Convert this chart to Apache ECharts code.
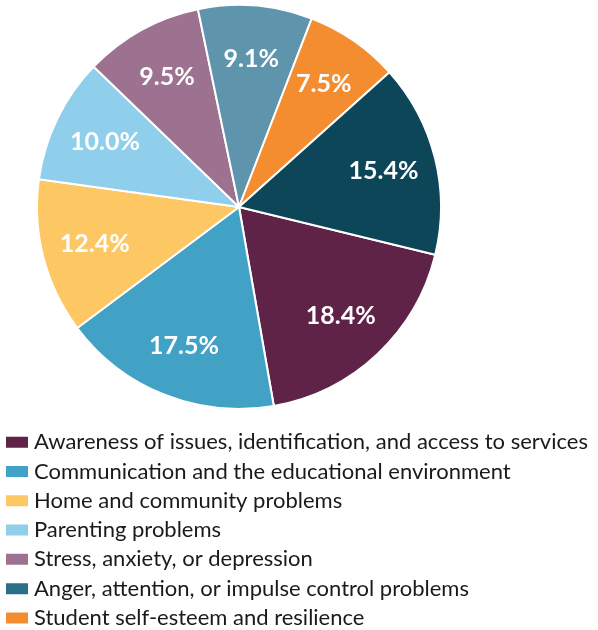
<!DOCTYPE html>
<html>
<head>
<meta charset="utf-8">
<script src="https://cdn.jsdelivr.net/npm/echarts@6/dist/echarts.min.js"></script>
<style>
  html, body { margin: 0; padding: 0; background: #ffffff; }
  #chart { width: 598px; height: 630px; }
</style>
</head>
<body>
<div id="chart"></div>
<script>
// Share of concerns, clockwise from the right-hand side
const categories = [
  'Awareness of issues, identification, and access to services',
  'Communication and the educational environment',
  'Home and community problems',
  'Parenting problems',
  'Stress, anxiety, or depression',
  'Other',
  'Student self-esteem and resilience',
  'Anger, attention, or impulse control problems'
];
const values = [18.4, 17.5, 12.4, 10.0, 9.5, 9.1, 7.5, 15.4];
const sliceColors = ['#5e2347', '#42a2c6', '#fdc863', '#8fcfec', '#9d7190', '#5e94ac', '#f48c30', '#0c4658'];

// Legend entries (the "Other" slice is not listed)
const legendNames = [
  'Awareness of issues, identification, and access to services',
  'Communication and the educational environment',
  'Home and community problems',
  'Parenting problems',
  'Stress, anxiety, or depression',
  'Anger, attention, or impulse control problems',
  'Student self-esteem and resilience'
];
const legendColors = ['#5e2347', '#42a2c6', '#fdc863', '#8fcfec', '#9d7190', '#2a7089', '#f48c30'];

const chart = echarts.init(document.getElementById('chart'), null, { renderer: 'canvas' });

const pieData = categories.map((name, i) => ({
  name: name,
  value: values[i],
  itemStyle: { color: sliceColors[i] }
}));

const labelData = categories.map((name, i) => ({
  name: name,
  value: values[i]
}));

const center = [239, 207];
const startAngle = -13.7;

chart.setOption({
  animation: false,
  legend: {
    orient: 'vertical',
    left: 4,
    top: 430,
    height: 220,
    padding: 0,
    itemWidth: 24,
    itemHeight: 13,
    itemGap: 5,
    icon: 'rect',
    selectedMode: false,
    textStyle: {
      fontFamily: 'Lato',
      fontSize: 22,
      color: '#1a1a1a',
      lineHeight: 24.3
    },
    data: legendNames.map((name, i) => ({
      name: name,
      itemStyle: { color: legendColors[i] }
    }))
  },
  series: [
    {
      type: 'pie',
      center: center,
      radius: [0, 202],
      startAngle: startAngle,
      clockwise: true,
      avoidLabelOverlap: false,
      label: { show: false },
      labelLine: { show: false },
      itemStyle: { borderColor: '#ffffff', borderWidth: 2 },
      emphasis: { disabled: true },
      data: pieData
    },
    {
      // value labels placed part-way out along each slice
      type: 'pie',
      center: center,
      radius: [90, 202],
      startAngle: startAngle,
      clockwise: true,
      silent: true,
      avoidLabelOverlap: false,
      legendHoverLink: false,
      itemStyle: { color: 'rgba(0,0,0,0)', borderWidth: 0 },
      label: {
        show: true,
        position: 'inside',
        formatter: (p) => p.value.toFixed(1) + '%',
        color: '#ffffff',
        fontFamily: 'Lato',
        fontWeight: 'bold',
        fontSize: 25
      },
      labelLine: { show: false },
      emphasis: { disabled: true },
      data: labelData
    }
  ]
});
</script>
</body>
</html>
